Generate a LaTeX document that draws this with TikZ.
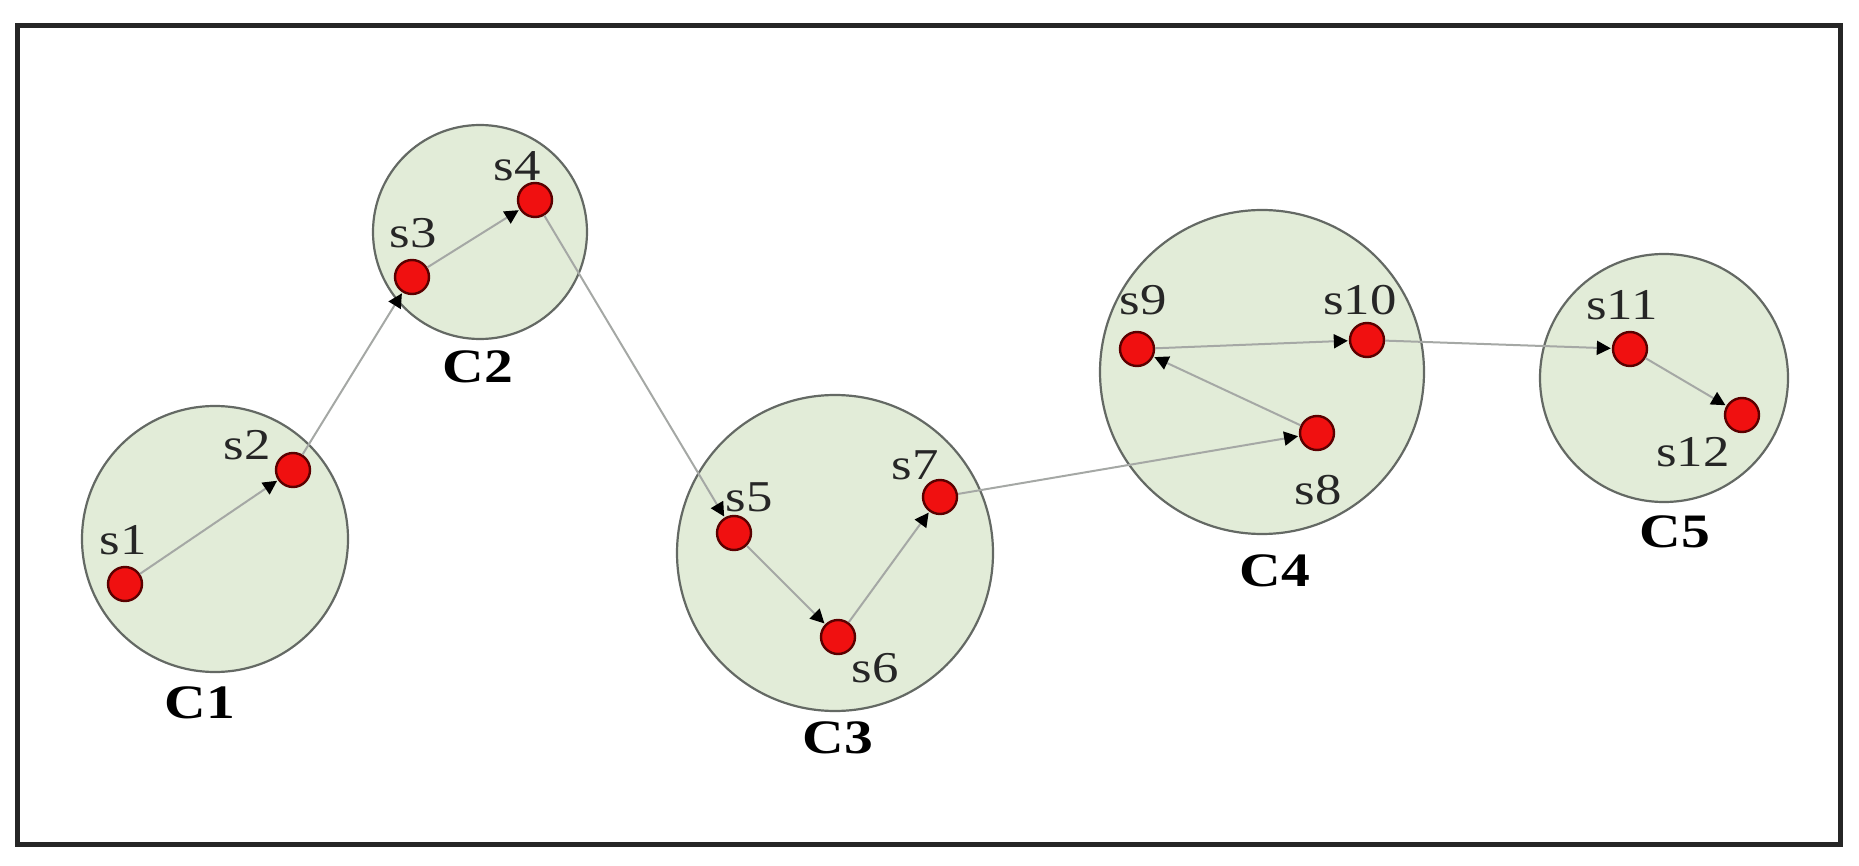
\documentclass[tikz,border=0pt]{standalone}
\usepackage{fontspec}
\setmainfont{Liberation Serif}
\usetikzlibrary{arrows.meta}
\definecolor{clfill}{RGB}{226,236,216}
\definecolor{cledge}{RGB}{100,105,100}
\definecolor{dotred}{RGB}{240,16,16}
\definecolor{dotedge}{RGB}{90,0,0}
\definecolor{linkgray}{RGB}{165,168,165}
\newcommand{\wideS}[1]{\scalebox{1.2}[1]{#1}}
\begin{document}
\begin{tikzpicture}[x=0.5pt,y=-0.5pt,
  cluster/.style={circle,draw=cledge,fill=clfill,line width=1.1pt,inner sep=0pt},
  sensor/.style={circle,draw=dotedge,fill=dotred,line width=1.2pt,minimum size=17pt,inner sep=0pt},
  slab/.style={font=\fontsize{22pt}{24pt}\selectfont,text=black!85,inner sep=0pt},
  clab/.style={font=\fontsize{24pt}{26pt}\selectfont\bfseries,inner sep=0pt},
  link/.style={draw=linkgray,line width=1pt,-{Triangle[length=7pt,width=7pt,fill=black,color=black]},shorten >=0.5pt}]
\useasboundingbox (0,0) rectangle (1859,866);
\draw[line width=2.5pt,draw=black!85] (17,26) rectangle (1840,844);
% clusters
\node[cluster,minimum size=133pt] (C1) at (215,539) {};
\node[cluster,minimum size=107pt] (C2) at (480,232) {};
\node[cluster,minimum size=158pt] (C3) at (835,553) {};
\node[cluster,minimum size=162pt] (C4) at (1262,372) {};
\node[cluster,minimum size=124pt] (C5) at (1664,378) {};
% cluster labels
\node[clab] (lC1) at (200,703) {\wideS{C1}};
\node[clab] (lC2) at (478,367) {\wideS{C2}};
\node[clab] (lC3) at (838,738) {\wideS{C3}};
\node[clab] (lC4) at (1275,571) {\wideS{C4}};
\node[clab] (lC5) at (1675,532) {\wideS{C5}};
% sensors
\node[sensor] (s1) at (125,584) {};
\node[sensor] (s2) at (293,470) {};
\node[sensor] (s3) at (412,277) {};
\node[sensor] (s4) at (535,200) {};
\node[sensor] (s5) at (734,533) {};
\node[sensor] (s6) at (838,637) {};
\node[sensor] (s7) at (940,497) {};
\node[sensor] (s8) at (1317,433) {};
\node[sensor] (s9) at (1137,349) {};
\node[sensor] (s10) at (1367,340) {};
\node[sensor] (s11) at (1630,349) {};
\node[sensor] (s12) at (1742,415) {};
% sensor labels
\node[slab] (l1) at (123,540) {\wideS{s1}};
\node[slab] (l2) at (247,445) {\wideS{s2}};
\node[slab] (l3) at (413,233) {\wideS{s3}};
\node[slab] (l4) at (517,166) {\wideS{s4}};
\node[slab] (l5) at (749,497) {\wideS{s5}};
\node[slab] (l6) at (875,668) {\wideS{s6}};
\node[slab] (l7) at (915,465) {\wideS{s7}};
\node[slab] (l8) at (1318,490) {\wideS{s8}};
\node[slab] (l9) at (1143,300) {\wideS{s9}};
\node[slab] (l10) at (1360,300) {\wideS{s10}};
\node[slab] (l11) at (1622,305) {\wideS{s11}};
\node[slab] (l12) at (1693,452) {\wideS{s12}};
% links
\draw[link] (s1) -- (s2);
\draw[link] (s2) -- (s3);
\draw[link] (s3) -- (s4);
\draw[link] (s4) -- (s5);
\draw[link] (s5) -- (s6);
\draw[link] (s6) -- (s7);
\draw[link] (s7) -- (s8);
\draw[link] (s8) -- (s9);
\draw[link] (s9) -- (s10);
\draw[link] (s10) -- (s11);
\draw[link] (s11) -- (s12);
\end{tikzpicture}
\end{document}
